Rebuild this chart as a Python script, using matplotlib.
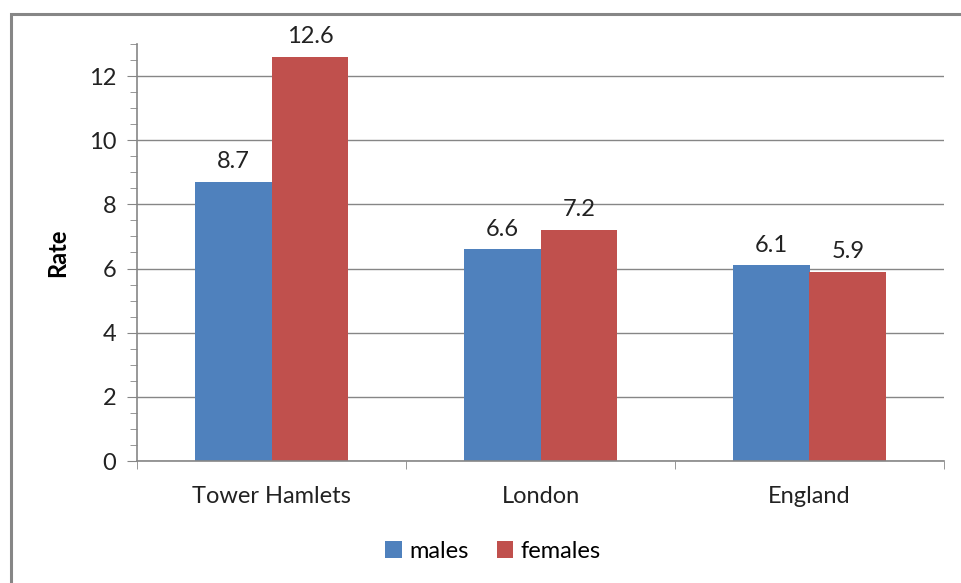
import numpy as np
import matplotlib.pyplot as plt
from matplotlib.patches import Rectangle
from matplotlib.ticker import MultipleLocator

plt.rcParams['font.family'] = ['Lato', 'DejaVu Sans']

areas = ["Tower Hamlets", "London", "England"]
males = [8.7, 6.6, 6.1]
females = [12.6, 7.2, 5.9]

blue = '#4F81BD'
red = '#C0504D'
grey = '#868686'
txt = '#222222'
fs = 17

fig = plt.figure(figsize=(9.61, 5.83), dpi=100)
W, H = 961, 583

# outer chart frame (right and bottom run off the page)
fig.patches.append(Rectangle((11 / W, -0.05), 1.0, 1 - 14 / H + 0.05,
                             transform=fig.transFigure, fill=False,
                             edgecolor=grey, linewidth=2.2))

ax = fig.add_axes([137 / W, 1 - 461 / H, (944 - 137) / W, (461 - 44) / H])

x = np.arange(len(areas))
width = 0.286
b1 = ax.bar(x - width / 2, males, width, color=blue, label='males')
b2 = ax.bar(x + width / 2, females, width, color=red, label='females')

for bars, vals in ((b1, males), (b2, females)):
    for bar, v in zip(bars, vals):
        ax.text(bar.get_x() + bar.get_width() / 2, v + 0.3, f"{v:g}",
                ha='center', va='bottom', fontsize=fs, color=txt)

ax.set_xlim(-0.5, 2.5)
ax.set_ylim(0, 13)
ax.yaxis.set_major_locator(MultipleLocator(2))
ax.yaxis.set_minor_locator(MultipleLocator(0.5))
ax.grid(axis='y', which='major', color=grey, linewidth=1)
ax.set_axisbelow(True)

ax.set_xticks(x)
ax.set_xticklabels(areas)
ax.set_xticks([-0.5, 0.5, 1.5, 2.5], minor=True)
ax.tick_params(axis='x', which='major', length=0, pad=18, labelsize=fs, labelcolor=txt)
ax.tick_params(axis='x', which='minor', length=6, color=grey, direction='out')
ax.tick_params(axis='y', which='major', length=7, color=grey, labelsize=fs,
               labelcolor=txt, pad=8)
ax.tick_params(axis='y', which='minor', length=5, color=grey)

for s in ('top', 'right'):
    ax.spines[s].set_visible(False)
for s in ('left', 'bottom'):
    ax.spines[s].set_color(grey)
    ax.spines[s].set_linewidth(1.2)

ax.set_ylabel('Rate', fontsize=fs, fontweight='bold', labelpad=14)

fig.legend(handles=[b1, b2], loc='center', bbox_to_anchor=(493 / W, 1 - 551 / H),
           ncol=2, frameon=False, fontsize=fs, handlelength=0.7, handleheight=0.7,
           handletextpad=0.3, columnspacing=1.2)

fig.savefig('out.png', dpi=100)
